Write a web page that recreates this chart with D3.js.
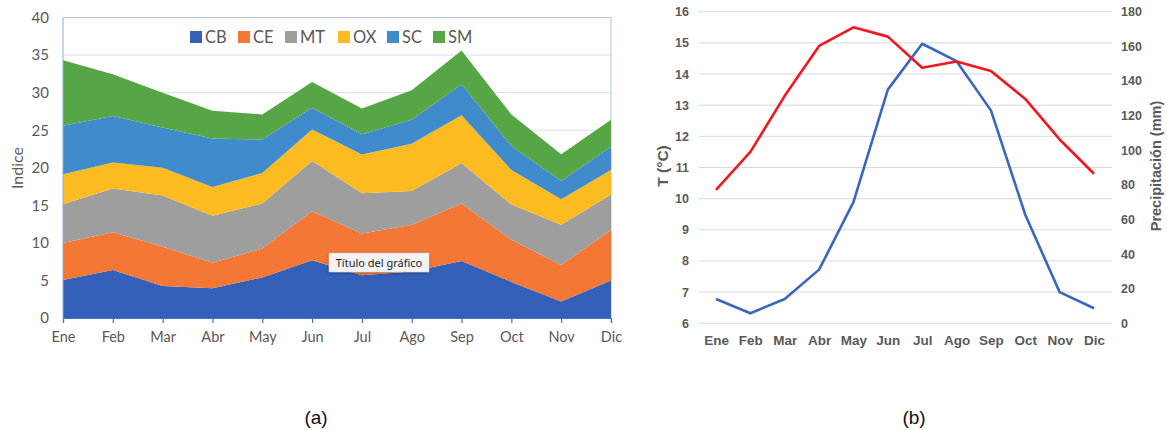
<!DOCTYPE html>
<html>
<head>
<meta charset="utf-8">
<script src="https://cdn.jsdelivr.net/npm/d3@7"></script>
<style>
  body { margin: 0; background: #fff; }
  svg { display: block; }
</style>
</head>
<body>
<svg width="1167" height="430"></svg>
<script>
// months shared by both panels
const months = ["Ene", "Feb", "Mar", "Abr", "May", "Jun", "Jul", "Ago", "Sep", "Oct", "Nov", "Dic"];

// (a) stacked indices
const seriesKeys = ["CB", "CE", "MT", "OX", "SC", "SM"];
const cbValues = [5.05, 6.4, 4.25, 3.95, 5.4, 7.7, 5.7, 6.2, 7.6, 4.8, 2.2, 5.0];
const ceValues = [4.95, 5.0, 5.25, 3.4, 3.85, 6.5, 5.55, 6.2, 7.65, 5.6, 4.85, 6.7];
const mtValues = [5.15, 5.85, 6.8, 6.25, 6.0, 6.7, 5.35, 4.5, 5.35, 4.7, 5.35, 4.75];
const oxValues = [4.0, 3.45, 3.7, 3.85, 4.05, 4.2, 5.15, 6.3, 6.4, 4.6, 3.4, 3.25];
const scValues = [6.45, 6.2, 5.35, 6.45, 4.45, 2.9, 2.7, 3.2, 4.1, 3.2, 2.45, 3.1];
const smValues = [8.7, 5.55, 4.65, 3.7, 3.35, 3.4, 3.45, 3.9, 4.5, 4.2, 3.55, 3.6];
const leftTicks = [0, 5, 10, 15, 20, 25, 30, 35, 40];

// (b) climate
const tempValues = [10.28, 11.5, 13.3, 14.9, 15.5, 15.2, 14.2, 14.4, 14.1, 13.2, 11.9, 10.8];
const precipValues = [14, 5.8, 14, 31, 70, 135, 161.5, 151.4, 123, 62.7, 18, 8.7];
const tempTicks = [6, 7, 8, 9, 10, 11, 12, 13, 14, 15, 16];
const precipTicks = [0, 20, 40, 60, 80, 100, 120, 140, 160, 180];

const svg = d3.select("svg");
const colors = {
  CB: "#3460BA", CE: "#F57735", MT: "#9E9E9E",
  OX: "#FDBB22", SC: "#408BCC", SM: "#56A646"
};

// ---------- panel (a) ----------
const a = svg.append("g");
const xA = d3.scalePoint().domain(months).range([63, 611]);
const yA = d3.scaleLinear().domain([0, 40]).range([318, 17.5]);

const rows = months.map((m, i) => ({
  month: m, CB: cbValues[i], CE: ceValues[i], MT: mtValues[i],
  OX: oxValues[i], SC: scValues[i], SM: smValues[i]
}));
const stacked = d3.stack().keys(seriesKeys)(rows);

// gridlines
a.append("g").selectAll("line")
  .data(leftTicks.filter(d => d > 0))
  .enter().append("line")
    .attr("x1", 63).attr("x2", 611)
    .attr("y1", d => yA(d)).attr("y2", d => yA(d))
    .attr("stroke", "#D5DEF0").attr("stroke-width", 1);

// plot frame (top + right)
a.append("path")
  .attr("d", `M63,${yA(40)}H611V318`)
  .attr("fill", "none").attr("stroke", "#BCCDEB").attr("stroke-width", 1.2);

const area = d3.area()
  .x((d, i) => xA(months[i]))
  .y0(d => yA(d[0]))
  .y1(d => yA(d[1]));

a.append("g").selectAll("path")
  .data(stacked)
  .enter().append("path")
    .attr("d", area)
    .attr("fill", d => colors[d.key]);

// axes lines
a.append("line").attr("x1", 63).attr("x2", 63).attr("y1", yA(40)).attr("y2", 318)
  .attr("stroke", "#8FAADC").attr("stroke-width", 1);
const xAxisA = a.append("g").attr("transform", "translate(0,318)")
  .call(d3.axisBottom(xA).tickSize(5).tickPadding(9));
xAxisA.select(".domain").attr("stroke", "#4472C4").attr("stroke-width", 1.2);
xAxisA.selectAll(".tick line").attr("stroke", "#4472C4").attr("stroke-width", 1.2);
xAxisA.selectAll("text")
  .attr("fill", "#595959").attr("font-family", "Lato, 'Open Sans', sans-serif").attr("font-size", 14.5);

const yAxisA = a.append("g").attr("transform", "translate(49,0)")
  .call(d3.axisLeft(yA).tickValues(leftTicks).tickSize(0).tickPadding(0));
yAxisA.select(".domain").remove();
yAxisA.selectAll("text")
  .attr("fill", "#595959").attr("font-family", "Lato, 'Open Sans', sans-serif").attr("font-size", 15);

a.append("text")
  .attr("transform", "translate(23,168) rotate(-90)")
  .attr("text-anchor", "middle")
  .attr("fill", "#595959").attr("font-family", "Lato, 'Open Sans', sans-serif").attr("font-size", 16)
  .text("Indice");

// legend
const legendX = [190, 238, 285, 338, 387, 433];
const legend = a.append("g").selectAll("g")
  .data(seriesKeys)
  .enter().append("g")
    .attr("transform", (d, i) => `translate(${legendX[i]},31)`);
legend.append("rect").attr("width", 12).attr("height", 12).attr("fill", d => colors[d]);
legend.append("text")
  .attr("x", 15).attr("y", 12)
  .attr("fill", "#595959").attr("font-family", "Lato, 'Open Sans', sans-serif").attr("font-size", 16.5)
  .text(d => d);

// tooltip bubble
const defs = svg.append("defs");
const shadow = defs.append("filter").attr("id", "sh").attr("x", "-20%").attr("y", "-40%")
  .attr("width", "140%").attr("height", "200%");
shadow.append("feDropShadow").attr("dx", 0).attr("dy", 1).attr("stdDeviation", 1.5)
  .attr("flood-color", "#000").attr("flood-opacity", 0.35);
a.append("rect")
  .attr("x", 329).attr("y", 253).attr("width", 100).attr("height", 19)
  .attr("fill", "#F3F3F3").attr("stroke", "#D0D0D0").attr("stroke-width", 0.5)
  .attr("filter", "url(#sh)");
a.append("text")
  .attr("x", 379).attr("y", 267).attr("text-anchor", "middle")
  .attr("fill", "#222").attr("font-family", "'Noto Sans', 'DejaVu Sans', sans-serif").attr("font-size", 11)
  .text("Título del gráfico");

// ---------- panel (b) ----------
const b = svg.append("g");
const xB = d3.scalePoint().domain(months).range([716, 1094]);
const yT = d3.scaleLinear().domain([6, 16]).range([323.3, 11.7]);
const yP = d3.scaleLinear().domain([0, 180]).range([323.3, 11.7]);
const boldFont = "'Liberation Sans', Arial, sans-serif";

b.append("g").selectAll("line")
  .data(tempTicks)
  .enter().append("line")
    .attr("x1", 699).attr("x2", 1112)
    .attr("y1", d => yT(d)).attr("y2", d => yT(d))
    .attr("stroke", "#D9D9D9").attr("stroke-width", 1);

const yAxisT = b.append("g").attr("transform", "translate(689,0)")
  .call(d3.axisLeft(yT).tickValues(tempTicks).tickSize(0).tickPadding(0));
yAxisT.select(".domain").remove();
yAxisT.selectAll("text")
  .attr("fill", "#595959").attr("font-family", boldFont).attr("font-weight", "bold").attr("font-size", 12.5);

const yAxisP = b.append("g").attr("transform", "translate(1121,0)")
  .call(d3.axisRight(yP).tickValues(precipTicks).tickSize(0).tickPadding(0));
yAxisP.select(".domain").remove();
yAxisP.selectAll("text")
  .attr("fill", "#595959").attr("font-family", boldFont).attr("font-weight", "bold").attr("font-size", 12.5);

const xAxisB = b.append("g").attr("transform", "translate(0,323.3)")
  .call(d3.axisBottom(xB).tickSize(0).tickPadding(12));
xAxisB.select(".domain").remove();
xAxisB.selectAll("text")
  .attr("fill", "#595959").attr("font-family", boldFont).attr("font-weight", "bold").attr("font-size", 13.5);

b.append("text")
  .attr("transform", "translate(668,166) rotate(-90)")
  .attr("text-anchor", "middle")
  .attr("fill", "#595959").attr("font-family", boldFont).attr("font-weight", "bold").attr("font-size", 15.5)
  .text("T (°C)");
b.append("text")
  .attr("transform", "translate(1161,166) rotate(-90)")
  .attr("text-anchor", "middle")
  .attr("fill", "#595959").attr("font-family", boldFont).attr("font-weight", "bold").attr("font-size", 14.5)
  .text("Precipitación (mm)");

const tempLine = d3.line().x((d, i) => xB(months[i])).y(d => yT(d));
const precipLine = d3.line().x((d, i) => xB(months[i])).y(d => yP(d));

b.append("path").datum(precipValues)
  .attr("d", precipLine)
  .attr("fill", "none").attr("stroke", "#3B66BF").attr("stroke-width", 2.6)
  .attr("stroke-linejoin", "round");
b.append("path").datum(tempValues)
  .attr("d", tempLine)
  .attr("fill", "none").attr("stroke", "#F3161E").attr("stroke-width", 2.6)
  .attr("stroke-linejoin", "round");

// captions
svg.append("text").attr("x", 316).attr("y", 424).attr("text-anchor", "middle")
  .attr("font-family", "'Liberation Sans', Arial, sans-serif").attr("font-size", 19).attr("fill", "#111")
  .text("(a)");
svg.append("text").attr("x", 914).attr("y", 424).attr("text-anchor", "middle")
  .attr("font-family", "'Liberation Sans', Arial, sans-serif").attr("font-size", 19).attr("fill", "#111")
  .text("(b)");
</script>
</body>
</html>
